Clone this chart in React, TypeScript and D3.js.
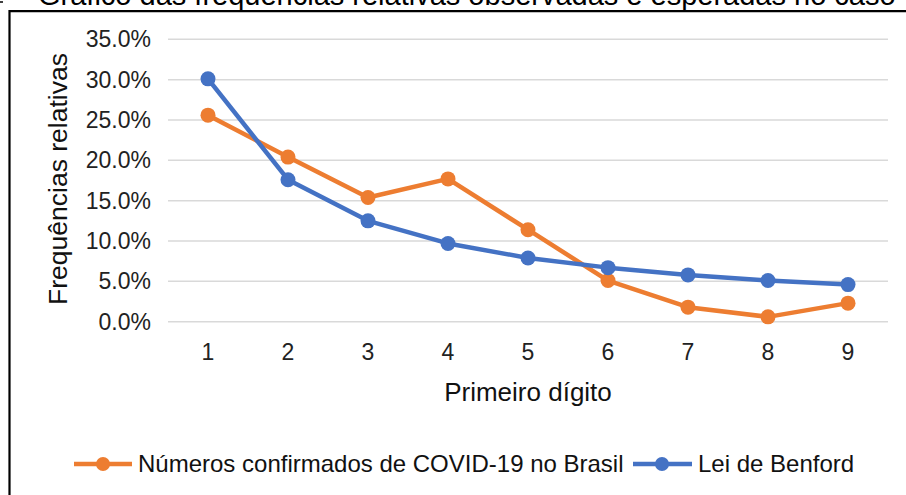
import * as d3 from 'd3';

// first digit 1..9
const digits = ['1', '2', '3', '4', '5', '6', '7', '8', '9'];
// observed share of COVID-19 numbers in Brazil
const covidBrasil = [0.256, 0.204, 0.154, 0.177, 0.114, 0.051, 0.018, 0.006, 0.023];
// Benford expectation
const benford = [0.301, 0.176, 0.125, 0.097, 0.079, 0.067, 0.058, 0.051, 0.046];
const yTicks = [0, 0.05, 0.1, 0.15, 0.2, 0.25, 0.3, 0.35];

const FONT = 'Liberation Sans, Arial, sans-serif';
const ORANGE = '#ED7D31';
const BLUE = '#4472C4';

export default function App() {
  const width = 906;
  const height = 495;

  const x = d3.scaleBand<string>().domain(digits).range([168, 888]).padding(0);
  const cx = (d: string) => (x(d) || 0) + x.bandwidth() / 2;
  const y = d3.scaleLinear().domain([0, 0.35]).range([321.7, 39.3]);

  const line = d3
    .line<number>()
    .x((_, i) => cx(digits[i]))
    .y((v) => y(v));

  const fmt = d3.format('.1%');

  const series = [
    { name: 'Números confirmados de COVID-19 no Brasil', values: covidBrasil, color: ORANGE },
    { name: 'Lei de Benford', values: benford, color: BLUE },
  ];

  return (
    <svg
      width={width}
      height={height}
      style={{ position: 'absolute', left: 0, top: 0, background: '#fff' }}
      fontFamily={FONT}
    >
      {/* caption above the frame, cut off by the crop */}
      <text x={38} y={5} fontSize={29} fill="#000">
        Gráfico das frequências relativas observadas e esperadas no caso
      </text>
      <line x1={0} x2={3} y1={2} y2={2} stroke="#000" strokeWidth={1.5} />

      {/* frame */}
      <path d={`M9.5,${height} V11.2 H${width}`} fill="none" stroke="#000" strokeWidth={2.2} />

      {/* grid */}
      {yTicks.map((t) => (
        <g key={t}>
          <line x1={168} x2={888} y1={y(t)} y2={y(t)} stroke="#d9d9d9" strokeWidth={1.5} />
          <text x={151} y={y(t) + 8} fontSize={23} textAnchor="end" fill="#222">
            {fmt(t)}
          </text>
        </g>
      ))}

      {/* x tick labels */}
      {digits.map((d) => (
        <text key={d} x={cx(d)} y={360} fontSize={23} textAnchor="middle" fill="#222">
          {d}
        </text>
      ))}

      <text x={528} y={401} fontSize={26} textAnchor="middle" fill="#111">
        Primeiro dígito
      </text>
      <text
        transform="translate(66.5,179) rotate(-90)"
        fontSize={26.5}
        textAnchor="middle"
        fill="#111"
      >
        Frequências relativas
      </text>

      {/* series */}
      {series.map((s) => (
        <g key={s.name}>
          <path d={line(s.values) || ''} fill="none" stroke={s.color} strokeWidth={4.5} strokeLinejoin="round" />
          {s.values.map((v, i) => (
            <circle key={i} cx={cx(digits[i])} cy={y(v)} r={7.5} fill={s.color} />
          ))}
        </g>
      ))}

      {/* legend */}
      <g>
        <line x1={74} x2={132} y1={464} y2={464} stroke={ORANGE} strokeWidth={4.5} />
        <circle cx={103} cy={464} r={7} fill={ORANGE} />
        <text x={138} y={472} fontSize={24} fill="#111">
          {series[0].name}
        </text>
        <line x1={633} x2={692} y1={464} y2={464} stroke={BLUE} strokeWidth={4.5} />
        <circle cx={662} cy={464} r={7} fill={BLUE} />
        <text x={698} y={472} fontSize={24} fill="#111">
          {series[1].name}
        </text>
      </g>
    </svg>
  );
}
